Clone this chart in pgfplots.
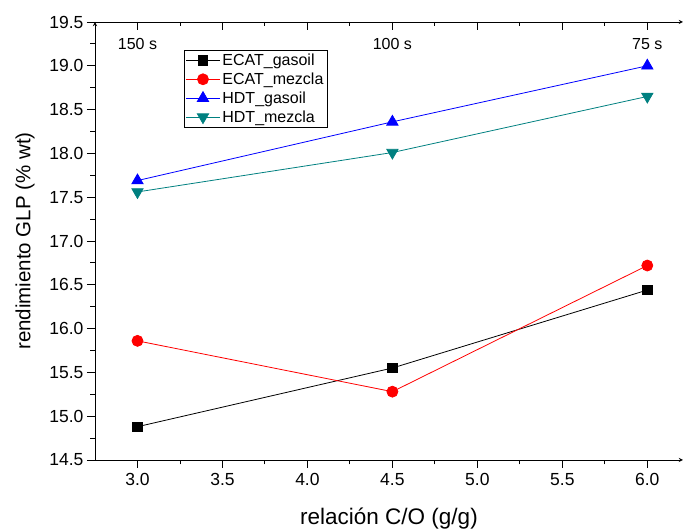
\documentclass[border=0pt]{standalone}
\usepackage{pgfplots}
\pgfplotsset{compat=1.18}
\usepackage{fontspec}
\setmainfont{Liberation Sans}
\definecolor{tealc}{RGB}{0,128,128}
\begin{document}
\begin{tikzpicture}
\pgfplotsset{common/.style={
  scale only axis, width=588pt, height=438pt,
  xmin=2.75, xmax=6.21, ymin=14.5, ymax=19.5,
  xtick={3,3.5,4,4.5,5,5.5,6}, ytick={14.5,15,15.5,16,16.5,17,17.5,18,18.5,19,19.5},
  minor x tick num=1, minor y tick num=1,
  major tick length=8pt, minor tick length=4.5pt,
  every tick/.style={black, line width=0.9pt},
  axis line style={-, line width=0.9pt},
  /pgf/number format/fixed, /pgf/number format/fixed zerofill,
  /pgf/number format/precision=1, /pgf/number format/assume math mode=true,
  ticklabel style={font=\fontsize{17.5}{20}\selectfont},
}}
\begin{axis}[common, axis x line=top, axis y line=none, tick align=inside, xticklabels={}]
\end{axis}
\begin{axis}[common, axis x line=bottom, axis y line=left, tick align=outside,
  xlabel={relación C/O (g/g)}, ylabel={rendimiento GLP (\% wt)},
  xlabel style={font=\fontsize{22.5}{26}\selectfont, yshift=-15pt},
  ylabel style={font=\fontsize{20.5}{24}\selectfont, yshift=8pt},
  xticklabel style={yshift=-2pt},
  legend style={at={(rel axis cs:0.151,0.936)}, anchor=north west, draw=black, line width=0.6pt,
    font=\fontsize{16}{18}\selectfont, inner sep=1.5pt, row sep=1.8pt},
  legend cell align=left,
  legend image code/.code={\draw[mark repeat=2,mark phase=2] plot coordinates {(0pt,0pt)(17pt,0pt)(34pt,0pt)};},
  clip=false]
\addplot[black, line width=0.8pt, mark=square*, mark size=4.8pt, mark options={solid}] coordinates {(3,14.88) (4.5,15.55) (6,16.44)};
\addlegendentry{ECAT\_gasoil}
\addplot[red, line width=0.8pt, mark=*, mark size=5.5pt] coordinates {(3,15.86) (4.5,15.28) (6,16.72)};
\addlegendentry{ECAT\_mezcla}
\addplot[blue, line width=0.8pt, mark=triangle*, mark size=6.5pt] coordinates {(3,17.69) (4.5,18.36) (6,19.00)};
\addlegendentry{HDT\_gasoil}
\addplot[tealc, line width=0.8pt, mark=triangle*, mark size=6.5pt, mark options={rotate=180}] coordinates {(3,17.56) (4.5,18.01) (6,18.65)};
\addlegendentry{HDT\_mezcla}
\node[font=\fontsize{16}{18}\selectfont] at (axis cs:3,19.25) {150 s};
\node[font=\fontsize{16}{18}\selectfont] at (axis cs:4.5,19.25) {100 s};
\node[font=\fontsize{16}{18}\selectfont] at (axis cs:6,19.25) {75 s};
\coordinate (ll) at (rel axis cs:0,0);
\coordinate (ur) at (rel axis cs:1,1);
\end{axis}
\pgfresetboundingbox
\path ([shift={(-95pt,-69pt)}]ll) rectangle ([shift={(0pt,22pt)}]ur);
\end{tikzpicture}
\end{document}
